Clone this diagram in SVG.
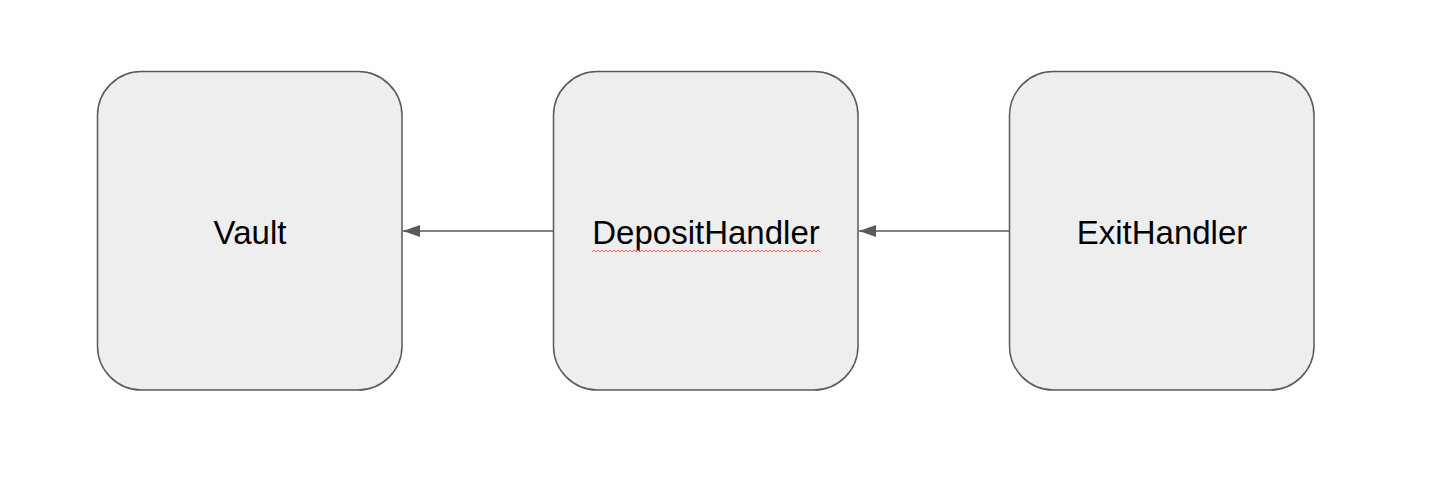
<svg xmlns="http://www.w3.org/2000/svg" width="1432" height="484" viewBox="0 0 1432 484">
<style>
.box{fill:#eeeeee;stroke:#595959;stroke-width:1.5}
.lbl{font-family:"Liberation Sans",Arial,sans-serif;font-size:33px;fill:#000;text-anchor:middle}
.edge{stroke:#595959;stroke-width:1.5;fill:none}
.squig{stroke:#e06060;stroke-width:1;fill:none}
</style>
<defs>
<marker id="arr" viewBox="0 0 17 12" markerWidth="17" markerHeight="12" refX="17" refY="6" orient="auto" markerUnits="userSpaceOnUse">
<path d="M17,6 L0,0 L0,12 Z" fill="#595959"/>
</marker>
</defs>
<rect width="1432" height="484" fill="#ffffff"/>
<g id="vault">
<rect class="box" x="97.5" y="71.5" width="304.5" height="318.5" rx="44" ry="44"/>
<text class="lbl" x="250" y="244">Vault</text>
</g>
<g id="deposithandler">
<rect class="box" x="553.5" y="71.5" width="304.5" height="318.5" rx="44" ry="44"/>
<text class="lbl" x="706" y="244">DepositHandler</text>
<path class="squig" d="M592,252 l2,-2 l2,2 l2,-2 l2,2 l2,-2 l2,2 l2,-2 l2,2 l2,-2 l2,2 l2,-2 l2,2 l2,-2 l2,2 l2,-2 l2,2 l2,-2 l2,2 l2,-2 l2,2 l2,-2 l2,2 l2,-2 l2,2 l2,-2 l2,2 l2,-2 l2,2 l2,-2 l2,2 l2,-2 l2,2 l2,-2 l2,2 l2,-2 l2,2 l2,-2 l2,2 l2,-2 l2,2 l2,-2 l2,2 l2,-2 l2,2 l2,-2 l2,2 l2,-2 l2,2 l2,-2 l2,2 l2,-2 l2,2 l2,-2 l2,2 l2,-2 l2,2 l2,-2 l2,2 l2,-2 l2,2 l2,-2 l2,2 l2,-2 l2,2 l2,-2 l2,2 l2,-2 l2,2 l2,-2 l2,2 l2,-2 l2,2 l2,-2 l2,2 l2,-2 l2,2 l2,-2 l2,2 l2,-2 l2,2 l2,-2 l2,2 l2,-2 l2,2 l2,-2 l2,2 l2,-2 l2,2 l2,-2 l2,2 l2,-2 l2,2 l2,-2 l2,2 l2,-2 l2,2 l2,-2 l2,2 l2,-2 l2,2 l2,-2 l2,2 l2,-2 l2,2 l2,-2 l2,2 l2,-2 l2,2 l2,-2 l2,2 l2,-2 l2,2 l2,-2 l2,2"/>
</g>
<g id="exithandler">
<rect class="box" x="1009.5" y="71.5" width="304.5" height="318.5" rx="44" ry="44"/>
<text class="lbl" x="1162" y="244">ExitHandler</text>
</g>
<g id="connectors">
<line class="edge" x1="553.5" y1="231" x2="403" y2="231" marker-end="url(#arr)"/>
<line class="edge" x1="1009.5" y1="231" x2="859" y2="231" marker-end="url(#arr)"/>
</g>
</svg>
